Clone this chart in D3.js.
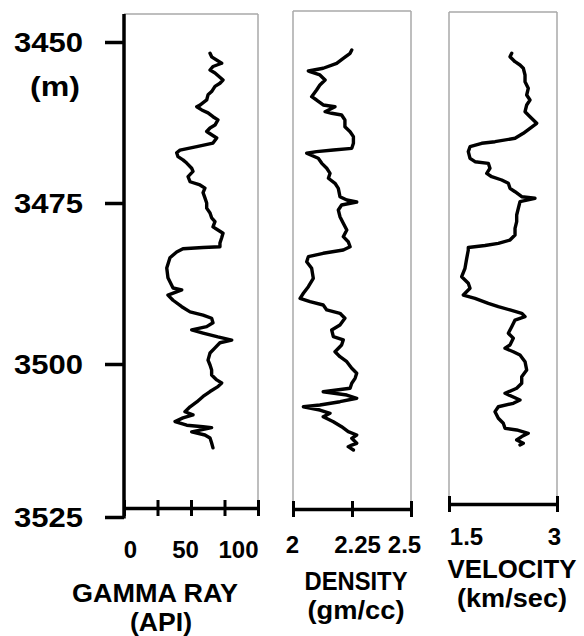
<!DOCTYPE html>
<html><head><meta charset="utf-8">
<script src="https://cdn.jsdelivr.net/npm/d3@7"></script>
<style>
body{margin:0;background:#fff}
text{font-family:"Liberation Sans",Arial,sans-serif;font-weight:bold;fill:#000}
</style>
</head><body><svg id="c" width="584" height="636"></svg>
<script>
// ---------- data ----------
const depthTicks = [3450, 3475, 3500, 3525];
const gammaTicks = [0, 25, 50, 75, 100];
const gammaTickLabels = ["0", "", "50", "", "100"];
const densityTicks = [2, 2.25, 2.5];
const densityTickLabels = ["2", "2.25", "2.5"];
const velocityTicks = [1.5, 3];
const velocityTickLabels = ["1.5", "3"];
const titles = ["GAMMA RAY", "DENSITY", "VELOCITY"];
const units = ["(API)", "(gm/cc)", "(km/sec)"];

const gammaDepth = [3451.75,3452.3,3453.3,3453.8,3454.35,3454.8,3455.9,3456.4,3456.9,3457.7,3458.2,3459.0,3459.8,3460.05,3460.55,3461.0,3461.6,3462.1,3462.9,3463.35,3463.9,3464.4,3464.9,3465.7,3466.25,3466.8,3467.2,3467.8,3468.3,3468.8,3469.6,3470.1,3470.9,3471.7,3472.2,3472.7,3473.4,3474.2,3475.0,3475.8,3476.55,3477.3,3477.9,3478.7,3479.2,3479.7,3480.4,3481.2,3481.8,3481.9,3482.1,3482.6,3483.5,3485.1,3486.6,3488.2,3488.5,3489.3,3490.1,3491.1,3491.9,3492.4,3492.9,3493.6,3494.2,3494.7,3495.2,3495.8,3496.3,3496.7,3497.5,3498.3,3499.4,3500.16,3500.98,3501.8,3502.6,3503.1,3503.7,3504.5,3505.3,3506.2,3507.0,3507.8,3508.3,3508.8,3509.4,3510.0,3510.25,3510.4,3511.1,3511.6,3512.1,3512.9,3513.7];
const gammaApi = [64.2,65.4,72.9,66.4,64.2,67.9,73.9,71.6,67.9,65.4,62.7,61.7,56.7,54.3,58.0,62.7,66.4,70.1,67.9,64.2,61.7,65.4,69.2,66.4,54.3,41.8,39.3,40.3,44.0,46.8,50.5,51.5,47.8,49.3,56.7,60.4,59.0,60.4,61.7,61.7,64.2,65.4,67.9,66.4,70.1,73.9,72.9,71.6,71.6,59.0,44.0,39.3,34.3,31.9,32.8,36.6,43.1,32.8,36.6,43.1,49.3,59.0,65.4,66.4,61.7,50.5,59.0,70.1,80.4,71.6,67.9,64.2,62.7,64.2,65.4,65.4,69.2,72.9,70.1,64.2,59.0,54.3,49.3,45.5,51.5,44.0,38.1,46.8,59.0,65.4,50.5,60.4,64.2,65.4,66.4];

const densityDepth = [3451.24,3451.75,3452.53,3453.31,3454.08,3454.5,3454.61,3455.12,3455.9,3456.68,3457.45,3458.49,3459.01,3459.78,3460.05,3460.82,3461.07,3461.34,3462.11,3463.15,3463.93,3464.7,3465.73,3466.51,3466.77,3467.03,3467.28,3468.06,3468.84,3469.61,3470.39,3471.16,3471.94,3472.72,3474.02,3474.53,3474.85,3475.31,3476.09,3477.13,3478.15,3479.19,3480.23,3481.01,3481.79,3482.3,3482.81,3483.34,3484.11,3485.14,3486.69,3488.0,3489.02,3489.8,3490.33,3490.84,3491.61,3492.13,3492.9,3493.94,3494.72,3495.76,3496.27,3497.05,3498.09,3498.87,3499.64,3500.7,3501.52,3502.34,3503.15,3503.97,3504.53,3505.07,3505.6,3506.16,3506.7,3506.98,3507.52,3508.06,3508.61,3509.43,3510.25,3511.06,3511.6,3512.14,3512.96,3513.24,3513.51,3514.05];
const densityGcc = [2.249,2.242,2.213,2.185,2.128,2.065,2.072,2.114,2.136,2.114,2.100,2.079,2.100,2.128,2.178,2.136,2.164,2.206,2.220,2.220,2.242,2.256,2.256,2.249,2.171,2.100,2.058,2.107,2.122,2.143,2.157,2.150,2.178,2.192,2.199,2.228,2.270,2.206,2.192,2.199,2.213,2.228,2.213,2.234,2.242,2.213,2.128,2.065,2.058,2.079,2.086,2.065,2.044,2.030,2.072,2.128,2.143,2.199,2.220,2.199,2.164,2.171,2.213,2.206,2.178,2.199,2.228,2.249,2.270,2.263,2.249,2.242,2.128,2.228,2.270,2.199,2.114,2.044,2.114,2.157,2.128,2.171,2.206,2.234,2.270,2.249,2.270,2.249,2.234,2.256];

const velocityDepth = [3451.75,3452.28,3453.06,3453.57,3454.08,3455.12,3456.16,3457.19,3458.23,3459.01,3459.78,3460.82,3461.6,3462.62,3463.4,3464.18,3464.95,3465.48,3465.73,3466.26,3467.03,3468.06,3468.59,3468.84,3469.61,3470.39,3470.92,3471.43,3471.94,3472.72,3473.25,3474.02,3474.27,3474.8,3475.82,3476.86,3477.9,3478.93,3479.97,3480.75,3481.26,3481.6,3481.91,3482.3,3483.59,3485.14,3486.44,3487.47,3488.24,3489.29,3489.8,3490.58,3491.1,3491.61,3492.13,3492.65,3493.17,3494.21,3495.23,3496.01,3497.05,3497.56,3498.09,3498.6,3499.64,3500.98,3502.08,3503.15,3503.97,3504.79,3505.88,3506.42,3506.98,3507.79,3508.87,3509.69,3510.51,3510.78,3511.32,3511.86,3512.42,3512.96,3513.24];
const velocityKms = [2.371,2.347,2.417,2.486,2.532,2.556,2.556,2.601,2.579,2.625,2.579,2.556,2.625,2.718,2.625,2.532,2.417,2.139,1.954,1.792,1.768,1.792,1.861,2.046,2.069,2.024,2.093,2.232,2.324,2.347,2.417,2.510,2.694,2.486,2.463,2.440,2.440,2.417,2.417,2.347,2.185,2.0,1.768,1.768,1.746,1.722,1.676,1.768,1.792,1.699,1.861,2.046,2.185,2.347,2.510,2.556,2.417,2.371,2.324,2.393,2.347,2.278,2.393,2.486,2.556,2.579,2.510,2.510,2.440,2.278,2.486,2.393,2.185,2.139,2.185,2.254,2.278,2.440,2.601,2.510,2.440,2.532,2.486];

// ---------- layout ----------
const svg = d3.select("#c");
const FONT = '"Liberation Sans",Arial,sans-serif';
const y = d3.scaleLinear().domain([3450, 3500, 3525]).range([42, 364, 517]);
const frameTop = [14, 11, 12];

const panels = [
  {depth: gammaDepth, vals: gammaApi, domain: [0, 100], range: [124, 258], axisY: 508,
   ticks: gammaTicks, labels: gammaTickLabels, labelDx: [6, -6, -6, 0, -20], labelY: 558,
   titleX: 155, titleY: 602, titleW: 166, unitX: 161, unitY: 631, unitW: 62, frameLeft: false},
  {depth: densityDepth, vals: densityGcc, domain: [2, 2.5], range: [293, 411], axisY: 509,
   ticks: densityTicks, labels: densityTickLabels, labelDx: [-1, 5, -7], labelY: 553,
   titleX: 356, titleY: 590, titleW: 103, unitX: 356, unitY: 619, unitW: 97, frameLeft: true},
  {depth: velocityDepth, vals: velocityKms, domain: [1.5, 3], range: [449, 557], axisY: 504,
   ticks: velocityTicks, labels: velocityTickLabels, labelDx: [17, -3], labelY: 545,
   titleX: 512, titleY: 578, titleW: 129, unitX: 512, unitY: 607, unitW: 110, frameLeft: true}
];

panels.forEach((p, i) => {
  const x = d3.scaleLinear().domain(p.domain).range(p.range);
  const top = frameTop[i];
  const g = svg.append("g");
  // gray frame
  const fr = g.append("g").attr("stroke", "#a8a8a8").attr("stroke-width", 1.5).attr("fill", "none");
  fr.append("line").attr("x1", x.range()[0]).attr("x2", x.range()[1]).attr("y1", top).attr("y2", top);
  fr.append("line").attr("x1", x.range()[1]).attr("x2", x.range()[1]).attr("y1", top).attr("y2", p.axisY);
  if (p.frameLeft) fr.append("line").attr("x1", x.range()[0]).attr("x2", x.range()[0]).attr("y1", top).attr("y2", p.axisY);

  // curve
  const pts = p.depth.map((d, k) => [p.vals[k], d]);
  g.append("path").datum(pts)
    .attr("fill", "none").attr("stroke", "#000").attr("stroke-width", 3.4)
    .attr("stroke-linejoin", "round").attr("stroke-linecap", "round")
    .attr("d", d3.line().x(d => x(d[0])).y(d => y(d[1])));

  // bottom axis
  const ax = g.append("g").attr("transform", `translate(0,${p.axisY})`)
    .call(d3.axisBottom(x).tickValues(p.ticks).tickSizeOuter(0).tickFormat((d, k) => p.labels[k]));
  ax.select(".domain").attr("stroke", "#000").attr("stroke-width", 3.5);
  ax.selectAll(".tick line").attr("y1", -8).attr("y2", 8).attr("stroke", "#000").attr("stroke-width", 3);
  ax.selectAll(".tick text")
    .attr("y", p.labelY - p.axisY).attr("dy", 0).attr("dx", (d, k) => p.labelDx[k])
    .style("font-size", "24px").style("font-family", FONT).style("font-weight", "bold");

  g.append("text").attr("x", p.titleX).attr("y", p.titleY).attr("text-anchor", "middle")
    .attr("textLength", p.titleW).attr("lengthAdjust", "spacingAndGlyphs")
    .style("font-size", "25px").text(titles[i]);
  g.append("text").attr("x", p.unitX).attr("y", p.unitY).attr("text-anchor", "middle")
    .attr("textLength", p.unitW).attr("lengthAdjust", "spacingAndGlyphs")
    .style("font-size", "25px").text(units[i]);
});

// depth axis
const dAx = svg.append("g").attr("transform", "translate(124,0)")
  .call(d3.axisLeft(y).tickValues(depthTicks).tickSize(19).tickPadding(22).tickSizeOuter(0).tickFormat(d3.format("d")));
dAx.select(".domain").remove();
dAx.selectAll(".tick line").attr("stroke", "#000").attr("stroke-width", 3.5);
dAx.selectAll(".tick text").style("font-size", "28px").style("font-family", FONT).style("font-weight", "bold")
  .attr("dy", "0.35em").attr("textLength", 69).attr("lengthAdjust", "spacingAndGlyphs");
svg.append("line").attr("x1", 124).attr("x2", 124).attr("y1", frameTop[0]).attr("y2", y(3525) + 1.5)
  .attr("stroke", "#000").attr("stroke-width", 3.5);
svg.append("text").attr("x", 55).attr("y", 96).attr("text-anchor", "middle")
  .attr("textLength", 50).attr("lengthAdjust", "spacingAndGlyphs").style("font-size", "27px").text("(m)");
</script></body></html>
